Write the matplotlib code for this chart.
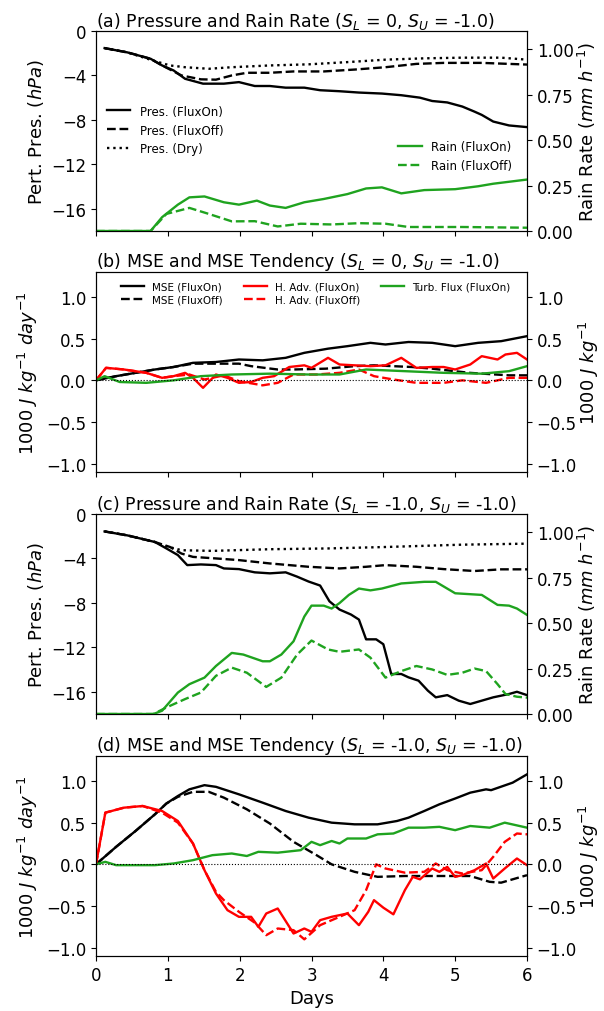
import numpy as np
import matplotlib
matplotlib.use('Agg')
import matplotlib.pyplot as plt

# ---- panel (a): S_L = 0, S_U = -1.0 ----
a_pon_t = [0.12, 0.44, 0.76, 0.92, 1.08, 1.24, 1.49, 1.78, 1.99, 2.21, 2.42, 2.64, 2.9, 3.12, 3.39,
           3.66, 3.98, 4.25, 4.51, 4.68, 4.89, 5.1, 5.27, 5.37, 5.53, 5.75, 6.0]
a_pon = [-1.54, -1.93, -2.5, -3.1, -3.55, -4.3, -4.74, -4.74, -4.6, -4.95, -4.95, -5.1, -5.1, -5.33, -5.42,
         -5.54, -5.63, -5.78, -6.0, -6.3, -6.43, -6.8, -7.26, -7.55, -8.15, -8.5, -8.65]
a_poff_t = [0.12, 0.44, 0.76, 0.92, 1.19, 1.46, 1.67, 1.89, 2.1, 2.42, 2.75, 3.17, 3.6, 4.03, 4.46, 4.84, 5.37, 6.0]
a_poff = [-1.54, -1.93, -2.5, -3.1, -4.0, -4.35, -4.38, -4.0, -3.76, -3.76, -3.64, -3.64, -3.47, -3.26, -2.96,
          -2.87, -2.87, -3.02]
a_pdry_t = [0.12, 0.44, 0.8, 1.03, 1.24, 1.57, 1.89, 2.42, 2.96, 3.5, 4.03, 4.57, 5.1, 5.64, 6.0]
a_pdry = [-1.54, -1.93, -2.67, -3.1, -3.26, -3.4, -3.26, -3.1, -3.0, -2.8, -2.58, -2.46, -2.4, -2.4, -2.58]
a_ron_t = [0.0, 0.76, 0.92, 1.14, 1.3, 1.51, 1.78, 1.99, 2.24, 2.42, 2.64, 2.9, 3.17, 3.5, 3.76, 3.98,
           4.25, 4.57, 5.0, 5.32, 5.53, 6.0]
a_ron = [0.0, 0.0, 0.076, 0.145, 0.185, 0.19, 0.158, 0.145, 0.167, 0.14, 0.127, 0.158, 0.176, 0.203, 0.234,
         0.24, 0.207, 0.225, 0.23, 0.246, 0.26, 0.283]
a_roff_t = [0.0, 0.76, 0.98, 1.3, 1.57, 1.89, 2.21, 2.53, 2.85, 3.28, 3.66, 4.03, 4.35, 5.1, 6.0]
a_roff = [0.0, 0.0, 0.094, 0.127, 0.094, 0.053, 0.054, 0.025, 0.04, 0.036, 0.043, 0.04, 0.022, 0.022, 0.018]

# ---- panel (b) ----
b_mon_t = [0, 0.28, 0.55, 0.82, 1.08, 1.35, 1.67, 1.99, 2.32, 2.64, 2.9, 3.23, 3.5, 3.82, 4.03, 4.35,
           4.68, 5.0, 5.32, 5.64, 6.0]
b_mon = [0, 0.05, 0.09, 0.13, 0.16, 0.21, 0.22, 0.25, 0.24, 0.27, 0.33, 0.38, 0.41, 0.45, 0.43, 0.46,
         0.45, 0.41, 0.45, 0.47, 0.53]
b_moff_t = [0, 0.28, 0.55, 0.82, 1.08, 1.35, 1.67, 1.99, 2.16, 2.53, 2.75, 3.2, 3.6, 3.87, 4.4, 4.68,
            5.2, 5.75, 6.0]
b_moff = [0, 0.05, 0.09, 0.13, 0.16, 0.2, 0.2, 0.2, 0.17, 0.13, 0.13, 0.14, 0.17, 0.18, 0.16, 0.14,
          0.09, 0.06, 0.06]
b_hon_t = [0, 0.14, 0.39, 0.7, 0.92, 1.08, 1.24, 1.35, 1.49, 1.67, 1.83, 1.99, 2.16, 2.32, 2.48, 2.69,
           2.9, 3.0, 3.23, 3.39, 3.6, 3.82, 4.03, 4.25, 4.46, 4.68, 4.84, 5.0, 5.21, 5.37, 5.59, 5.7,
           5.86, 6.0]
b_hon = [0, 0.15, 0.13, 0.09, 0.03, 0.05, 0.09, 0.03, -0.09, 0.07, 0.03, -0.03, -0.02, 0.03, 0.05, 0.16,
         0.18, 0.15, 0.27, 0.19, 0.18, 0.17, 0.18, 0.27, 0.15, 0.16, 0.16, 0.13, 0.19, 0.29, 0.25, 0.31,
         0.33, 0.25]
b_hoff_t = [0, 0.14, 0.39, 0.7, 0.92, 1.08, 1.3, 1.51, 1.78, 1.99, 2.32, 2.53, 2.75, 3.07, 3.39, 3.66,
            3.87, 4.14, 4.46, 4.84, 5.1, 5.43, 5.75, 6.0]
b_hoff = [0, 0.15, 0.13, 0.09, 0.03, 0.05, 0.07, 0.01, 0.06, -0.01, -0.06, -0.03, 0.07, 0.07, 0.09, 0.13,
          0.05, 0.01, -0.03, -0.03, 0.0, -0.03, 0.03, 0.03]
b_turb_t = [0, 0.12, 0.33, 0.7, 1.08, 1.46, 1.89, 2.42, 2.96, 3.39, 3.76, 4.3, 4.84, 5.37, 5.75, 6.0]
b_turb = [0, 0.05, -0.02, -0.03, 0.0, 0.05, 0.07, 0.08, 0.07, 0.07, 0.13, 0.11, 0.09, 0.08, 0.11, 0.17]

# ---- panel (c): S_L = -1.0, S_U = -1.0 ----
c_pon_t = [0.12, 0.44, 0.82, 0.98, 1.14, 1.27, 1.46, 1.67, 1.78, 1.99, 2.21, 2.42, 2.64, 2.8, 2.96, 3.12,
           3.25, 3.39, 3.55, 3.66, 3.76, 3.9, 4.0, 4.11, 4.25, 4.35, 4.49, 4.62, 4.73, 4.89, 5.05, 5.21,
           5.37, 5.53, 5.75, 5.86, 6.0]
c_pon = [-1.57, -1.93, -2.52, -3.1, -3.7, -4.6, -4.54, -4.6, -4.9, -4.96, -5.25, -5.34, -5.25, -5.64,
         -6.08, -6.44, -7.86, -8.6, -9.05, -9.5, -11.28, -11.28, -11.72, -14.4, -14.4, -14.7, -15.0,
         -15.9, -16.5, -16.3, -16.8, -17.1, -16.8, -16.5, -16.2, -16.0, -16.3]
c_poff_t = [0.12, 0.44, 0.82, 1.03, 1.19, 1.35, 1.67, 1.99, 2.42, 2.96, 3.39, 3.76, 4.03, 4.46, 4.84,
            5.27, 5.64, 6.0]
c_poff = [-1.57, -1.93, -2.52, -2.97, -3.56, -3.86, -4.0, -4.15, -4.45, -4.75, -4.9, -4.75, -4.6, -4.75,
          -4.96, -5.13, -4.98, -4.98]
c_pdry_t = [0.12, 0.44, 0.82, 0.92, 1.19, 1.62, 2.42, 3.23, 4.03, 5.1, 6.0]
c_pdry = [-1.57, -1.93, -2.52, -2.8, -3.26, -3.32, -3.17, -3.1, -2.97, -2.76, -2.67]
c_ron_t = [0.0, 0.8, 0.92, 1.14, 1.3, 1.51, 1.67, 1.89, 2.05, 2.32, 2.42, 2.58, 2.75, 2.9, 3.0, 3.17,
           3.28, 3.39, 3.52, 3.66, 3.82, 3.98, 4.25, 4.57, 4.73, 5.0, 5.37, 5.59, 5.75, 5.86, 6.0]
c_ron = [0.0, 0.0, 0.018, 0.118, 0.164, 0.2, 0.264, 0.336, 0.327, 0.29, 0.29, 0.327, 0.4, 0.536, 0.596,
         0.596, 0.58, 0.61, 0.655, 0.69, 0.68, 0.69, 0.718, 0.727, 0.727, 0.664, 0.655, 0.6, 0.596,
         0.58, 0.545]
c_roff_t = [0.0, 0.8, 0.98, 1.24, 1.46, 1.67, 1.89, 2.1, 2.37, 2.58, 2.8, 3.0, 3.23, 3.39, 3.66, 3.82,
            4.03, 4.25, 4.46, 4.68, 4.89, 5.1, 5.27, 5.43, 5.59, 5.7, 5.86, 6.0]
c_roff = [0.0, 0.0, 0.036, 0.082, 0.118, 0.21, 0.255, 0.227, 0.149, 0.2, 0.327, 0.404, 0.355, 0.342,
          0.355, 0.31, 0.2, 0.236, 0.264, 0.245, 0.215, 0.227, 0.25, 0.236, 0.164, 0.11, 0.095, 0.09]

# ---- panel (d) ----
d_mon_t = [0, 0.28, 0.55, 0.82, 0.98, 1.14, 1.3, 1.51, 1.67, 1.99, 2.32, 2.64, 2.96, 3.28, 3.6, 3.92,
           4.19, 4.35, 4.57, 4.78, 5.0, 5.21, 5.43, 5.5, 5.8, 6.0]
d_mon = [0, 0.21, 0.4, 0.6, 0.73, 0.82, 0.9, 0.95, 0.93, 0.84, 0.74, 0.64, 0.56, 0.5, 0.48, 0.48, 0.52,
         0.56, 0.64, 0.72, 0.79, 0.86, 0.9, 0.89, 0.98, 1.08]
d_moff_t = [0, 0.28, 0.55, 0.82, 0.98, 1.14, 1.35, 1.57, 1.78, 2.1, 2.42, 2.75, 3.07, 3.28, 3.6, 3.92,
            4.3, 4.84, 5.21, 5.48, 5.64, 6.0]
d_moff = [0, 0.21, 0.4, 0.6, 0.73, 0.81, 0.87, 0.87, 0.8, 0.66, 0.49, 0.27, 0.11, 0.0, -0.09, -0.15,
          -0.14, -0.14, -0.14, -0.21, -0.22, -0.13]
d_hon_t = [0, 0.13, 0.39, 0.65, 0.92, 1.14, 1.35, 1.51, 1.67, 1.83, 1.99, 2.16, 2.26, 2.37, 2.53, 2.75,
           2.9, 3.0, 3.12, 3.28, 3.5, 3.66, 3.79, 3.87, 4.0, 4.14, 4.3, 4.41, 4.51, 4.68, 4.78, 4.89,
           5.0, 5.1, 5.27, 5.43, 5.53, 5.69, 5.86, 6.0]
d_hon = [0, 0.62, 0.68, 0.7, 0.64, 0.52, 0.25, -0.07, -0.35, -0.55, -0.63, -0.63, -0.75, -0.59, -0.53,
         -0.83, -0.77, -0.81, -0.67, -0.63, -0.59, -0.73, -0.57, -0.43, -0.52, -0.6, -0.31, -0.15, -0.18,
         -0.05, -0.09, -0.03, -0.15, -0.13, -0.07, 0.01, -0.17, -0.05, 0.07, -0.01]
d_hoff_t = [0, 0.13, 0.39, 0.65, 0.92, 1.14, 1.35, 1.51, 1.67, 1.78, 1.99, 2.21, 2.37, 2.53, 2.75, 2.9,
            3.12, 3.39, 3.6, 3.76, 3.9, 4.03, 4.3, 4.57, 4.73, 4.89, 5.1, 5.37, 5.53, 5.69, 5.86, 6.0]
d_hoff = [0, 0.62, 0.68, 0.7, 0.62, 0.5, 0.25, -0.07, -0.33, -0.43, -0.57, -0.7, -0.85, -0.77, -0.79,
          -0.9, -0.73, -0.63, -0.55, -0.31, 0.0, -0.05, -0.1, -0.09, 0.01, -0.07, -0.11, -0.07, 0.09,
          0.27, 0.37, 0.36]
d_turb_t = [0, 0.13, 0.28, 0.82, 1.08, 1.35, 1.62, 1.89, 2.1, 2.26, 2.53, 2.85, 3.0, 3.12, 3.28, 3.39,
            3.5, 3.76, 3.92, 4.14, 4.35, 4.57, 4.78, 5.0, 5.21, 5.48, 5.69, 6.0]
d_turb = [0, 0.03, -0.01, -0.01, 0.01, 0.05, 0.11, 0.13, 0.1, 0.15, 0.14, 0.17, 0.27, 0.23, 0.28, 0.25,
          0.31, 0.31, 0.36, 0.37, 0.44, 0.44, 0.45, 0.41, 0.46, 0.44, 0.5, 0.44]

green = '#1fa31f'
lw = 1.7

fig = plt.figure(figsize=(6.04, 10.12), dpi=100)
L, W, H = 96 / 604, 431 / 604, 200 / 1012
tops = [32, 273, 515, 757]
axes = [fig.add_axes([L, 1 - (t + 200) / 1012, W, H]) for t in tops]


def pressure_panel(ax, title, pon_t, pon, poff_t, poff, pdry_t, pdry, ron_t, ron, roff_t, roff, legends):
    l1, = ax.plot(pon_t, pon, 'k-', lw=lw, label='Pres. (FluxOn)')
    l2, = ax.plot(poff_t, poff, 'k--', lw=lw, label='Pres. (FluxOff)')
    l3, = ax.plot(pdry_t, pdry, 'k:', lw=lw, label='Pres. (Dry)')
    ax.set_ylim(-18, 0)
    ax.set_yticks([0, -4, -8, -12, -16])
    ax.set_ylabel('Pert. Pres. ($hPa$)', fontsize=13)
    ax.set_title(title, fontsize=12.5, loc='left', pad=3)
    ax2 = ax.twinx()
    r1, = ax2.plot(ron_t, ron, '-', color=green, lw=lw, label='Rain (FluxOn)')
    r2, = ax2.plot(roff_t, roff, '--', color=green, lw=lw, label='Rain (FluxOff)')
    ax2.set_ylim(0, 1.1)
    ax2.set_yticks([0, 0.25, 0.5, 0.75, 1.0])
    ax2.set_yticklabels(['0.00', '0.25', '0.50', '0.75', '1.00'])
    ax2.set_ylabel('Rain Rate ($mm\\ h^{-1}$)', fontsize=13, labelpad=2)
    ax2.tick_params(labelsize=12)
    if legends:
        ax.legend(handles=[l1, l2, l3], loc='center left', bbox_to_anchor=(0.0, 0.505),
                  frameon=False, fontsize=8.5)
        ax2.legend(handles=[r1, r2], loc='center right', bbox_to_anchor=(0.99, 0.375),
                   frameon=False, fontsize=8.5)


def mse_panel(ax, title, mon_t, mon, moff_t, moff, hon_t, hon, hoff_t, hoff, turb_t, turb, legends):
    h1, = ax.plot(mon_t, mon, 'k-', lw=lw, label='MSE (FluxOn)')
    h2, = ax.plot(moff_t, moff, 'k--', lw=lw, label='MSE (FluxOff)')
    h3, = ax.plot(hon_t, hon, 'r-', lw=lw, label='H. Adv. (FluxOn)')
    h4, = ax.plot(hoff_t, hoff, 'r--', lw=lw, label='H. Adv. (FluxOff)')
    h5, = ax.plot(turb_t, turb, '-', color=green, lw=lw, label='Turb. Flux (FluxOn)')
    ax.axhline(0, color='k', ls=':', lw=0.8)
    ax.set_ylim(-1.1, 1.3)
    ax.set_yticks([-1.0, -0.5, 0.0, 0.5, 1.0])
    ax.set_ylabel('1000 $J\\ kg^{-1}\\ day^{-1}$', fontsize=13)
    ax.set_title(title, fontsize=12.5, loc='left', pad=3)
    ax2 = ax.twinx()
    ax2.set_ylim(-1.1, 1.3)
    ax2.set_yticks([-1.0, -0.5, 0.0, 0.5, 1.0])
    ax2.set_ylabel('1000 $J\\ kg^{-1}$', fontsize=13, labelpad=0)
    ax2.tick_params(labelsize=12)
    if legends:
        ax.legend(handles=[h1, h2, h3, h4, h5], loc='upper center', bbox_to_anchor=(0.51, 1.0), ncol=3,
                  frameon=False, fontsize=7.5, columnspacing=2.0, handlelength=2.2, labelspacing=0.3)


pressure_panel(axes[0], '(a) Pressure and Rain Rate ($S_L$ = 0, $S_U$ = -1.0)',
               a_pon_t, a_pon, a_poff_t, a_poff, a_pdry_t, a_pdry, a_ron_t, a_ron, a_roff_t, a_roff, True)
mse_panel(axes[1], '(b) MSE and MSE Tendency ($S_L$ = 0, $S_U$ = -1.0)',
          b_mon_t, b_mon, b_moff_t, b_moff, b_hon_t, b_hon, b_hoff_t, b_hoff, b_turb_t, b_turb, True)
pressure_panel(axes[2], '(c) Pressure and Rain Rate ($S_L$ = -1.0, $S_U$ = -1.0)',
               c_pon_t, c_pon, c_poff_t, c_poff, c_pdry_t, c_pdry, c_ron_t, c_ron, c_roff_t, c_roff, False)
mse_panel(axes[3], '(d) MSE and MSE Tendency ($S_L$ = -1.0, $S_U$ = -1.0)',
          d_mon_t, d_mon, d_moff_t, d_moff, d_hon_t, d_hon, d_hoff_t, d_hoff, d_turb_t, d_turb, False)

for i, ax in enumerate(axes):
    ax.set_xlim(0, 6)
    ax.set_xticks(range(7))
    ax.tick_params(labelsize=12)
    if i < 3:
        ax.set_xticklabels([])
axes[3].set_xlabel('Days', fontsize=13)

fig.savefig('out.png', dpi=100)
